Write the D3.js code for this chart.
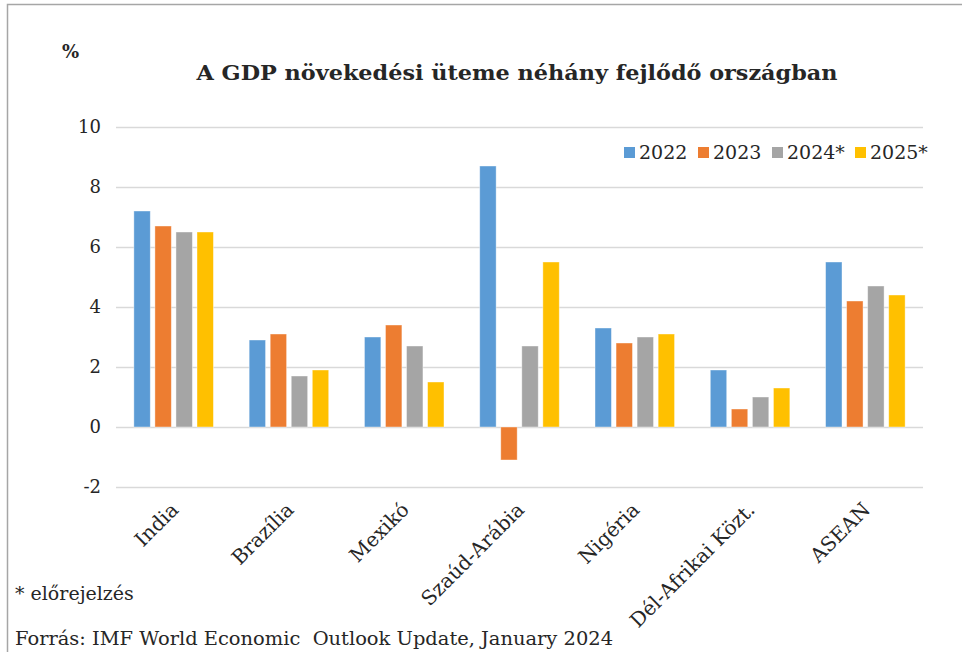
<!DOCTYPE html>
<html>
<head>
<meta charset="utf-8">
<script src="https://cdn.jsdelivr.net/npm/d3@7"></script>
<style>
  body { margin: 0; background: #fff; }
  svg { display: block; }
  text { font-family: "DejaVu Serif", serif; fill: #262626; }
</style>
</head>
<body>
<div id="chart"></div>
<script>
const categories = ['India', 'Brazília', 'Mexikó', 'Szaúd-Arábia', 'Nigéria', 'Dél-Afrikai Közt.', 'ASEAN'];
const seriesNames = ['2022', '2023', '2024*', '2025*'];
const seriesColors = ['#5B9BD5', '#ED7D31', '#A5A5A5', '#FFC000'];
const values2022 = [7.2, 2.9, 3.0, 8.7, 3.3, 1.9, 5.5];
const values2023 = [6.7, 3.1, 3.4, -1.1, 2.8, 0.6, 4.2];
const values2024 = [6.5, 1.7, 2.7, 2.7, 3.0, 1.0, 4.7];
const values2025 = [6.5, 1.9, 1.5, 5.5, 3.1, 1.3, 4.4];
const yTicks = [-2, 0, 2, 4, 6, 8, 10];

const series = [values2022, values2023, values2024, values2025];
const rows = categories.map((c, i) => ({
  category: c,
  values: seriesNames.map((s, j) => ({ key: s, value: series[j][i], color: seriesColors[j] }))
}));

const W = 962, H = 652;
const svg = d3.select('#chart').append('svg').attr('width', W).attr('height', H);

// outer frame
svg.append('rect')
  .attr('x', 7.5).attr('y', 4.5).attr('width', 970).attr('height', 700)
  .attr('fill', 'none').attr('stroke', '#a6a6a6').attr('stroke-width', 1.5);

const x0 = d3.scaleBand().domain(categories).range([116, 923]).paddingInner(0.31).paddingOuter(0.155);
const x1 = d3.scaleBand().domain(seriesNames).range([0, x0.bandwidth()]).paddingInner(0.22);
const y = d3.scaleLinear().domain([-2, 10]).range([487, 127]);

// gridlines
svg.append('g')
  .selectAll('line').data(yTicks).join('line')
  .attr('x1', 116).attr('x2', 923)
  .attr('y1', d => y(d) + 0.5).attr('y2', d => y(d) + 0.5)
  .attr('stroke', '#d9d9d9').attr('stroke-width', 1.5);

// y axis labels
const yAxis = svg.append('g').attr('transform', 'translate(101,0)')
  .call(d3.axisLeft(y).tickValues(yTicks).tickFormat(d => String(d)).tickSize(0).tickPadding(0));
yAxis.select('.domain').remove();
yAxis.selectAll('text')
  .attr('font-family', '"DejaVu Serif", serif')
  .attr('font-size', 18).attr('fill', '#262626');

// bars
const groups = svg.append('g').selectAll('g').data(rows).join('g')
  .attr('transform', d => `translate(${x0(d.category)},0)`);
groups.selectAll('rect').data(d => d.values).join('rect')
  .attr('x', d => x1(d.key))
  .attr('width', x1.bandwidth())
  .attr('y', d => y(Math.max(0, d.value)))
  .attr('height', d => Math.abs(y(d.value) - y(0)))
  .attr('fill', d => d.color)
  .attr('stroke', '#fff').attr('stroke-opacity', 0.5).attr('stroke-width', 0.8);

// x labels
svg.append('g').selectAll('text').data(categories).join('text')
  .attr('transform', d => `translate(${x0(d) + x0.bandwidth() / 2 + 6},${511}) rotate(-45)`)
  .attr('text-anchor', 'end')
  .attr('font-family', '"Liberation Serif", "Times New Roman", serif')
  .attr('font-size', 20).attr('fill', '#1a1a1a')
  .text(d => d);

// legend
const legendX = [624, 698, 772, 855];
const legend = svg.append('g').selectAll('g').data(seriesNames).join('g')
  .attr('transform', (d, i) => `translate(${legendX[i]},147)`);
legend.append('rect').attr('width', 11).attr('height', 11).attr('fill', (d, i) => seriesColors[i]);
legend.append('text').attr('x', 15).attr('y', 12).attr('font-size', 19).text(d => d);

// title and labels
svg.append('text').attr('x', 62).attr('y', 58)
  .attr('font-family', '"Liberation Sans", Arial, sans-serif').attr('font-weight', 'bold')
  .attr('font-size', 18).attr('fill', '#000').text('%');

svg.append('text').attr('x', 517).attr('y', 80).attr('text-anchor', 'middle')
  .attr('font-weight', 'bold').attr('font-size', 20).attr('fill', '#000')
  .attr('textLength', 641).attr('lengthAdjust', 'spacingAndGlyphs')
  .text('A GDP növekedési üteme néhány fejlődő országban');

svg.append('text').attr('x', 15).attr('y', 600)
  .attr('font-family', '"Liberation Serif", "Times New Roman", serif')
  .attr('font-size', 19).attr('fill', '#000')
  .text('* előrejelzés');

svg.append('text').attr('x', 15).attr('y', 645)
  .attr('font-size', 18).attr('fill', '#000')
  .attr('xml:space', 'preserve').style('white-space', 'pre')
  .attr('textLength', 598).attr('lengthAdjust', 'spacingAndGlyphs')
  .text('Forrás: IMF World Economic  Outlook Update, January 2024');
</script>
</body>
</html>
